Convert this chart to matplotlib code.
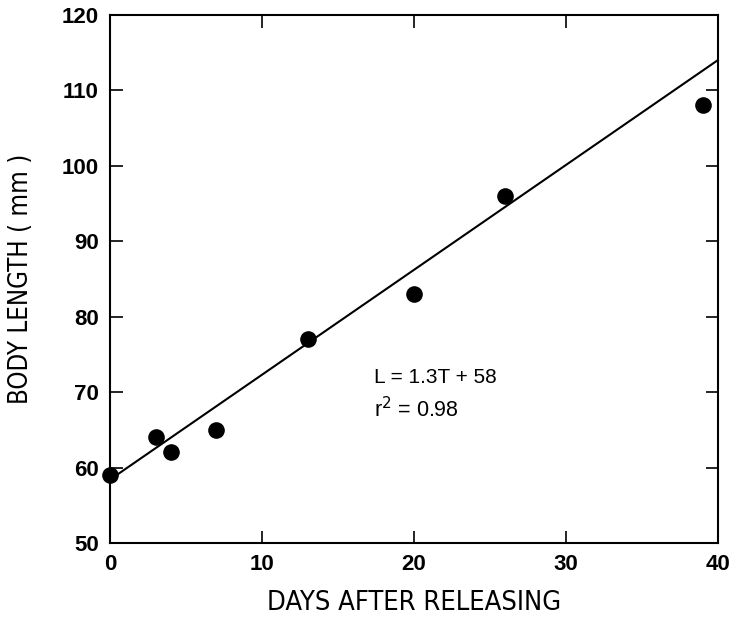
import matplotlib.pyplot as plt
import numpy as np

days = [0, 3, 4, 7, 13, 20, 26, 39]
body_length = [59, 64, 62, 65, 77, 83, 96, 108]

# regression line as drawn in the figure
fit_slope = 1.39
fit_intercept = 58.4
fit_x = [0, 40]

x_ticks = [0, 10, 20, 30, 40]
y_ticks = [50, 60, 70, 80, 90, 100, 110, 120]

fig = plt.figure(figsize=(7.31, 6.25), dpi=100)
ax = fig.add_axes([0.1505, 0.1312, 0.8315, 0.845])

fx = np.array(fit_x)
ax.plot(fx, fit_slope * fx + fit_intercept, color='black', lw=1.5, clip_on=False, zorder=2)
ax.scatter(days, body_length, s=120, color='black', zorder=3, clip_on=False)

ax.set_xlim(0, 40)
ax.set_ylim(50, 120)
ax.set_xticks(x_ticks)
ax.set_yticks(y_ticks)
for s in ax.spines.values():
    s.set_linewidth(1.5)
ax.tick_params(direction='in', length=9, width=1.2, labelsize=16, pad=8,
               top=True, right=True)
for lab in ax.get_xticklabels() + ax.get_yticklabels():
    lab.set_fontweight('bold')
    lab.set_family('Liberation Sans')

ax.set_xlabel('DAYS AFTER RELEASING', family='DejaVu Sans', stretch='condensed',
              fontsize=19.5, labelpad=11)
ax.set_ylabel('BODY LENGTH ( mm )', family='DejaVu Sans', stretch='condensed',
              fontsize=18.5, labelpad=20)

ax.text(0.435, 0.3125, 'L = 1.3T + 58', transform=ax.transAxes, fontsize=15,
        family='Liberation Sans', va='center')
ax.text(0.435, 0.252, r'r$^2$ = 0.98', transform=ax.transAxes, fontsize=15.5,
        family='Liberation Sans', va='center')

fig.savefig('out.png', dpi=100)
